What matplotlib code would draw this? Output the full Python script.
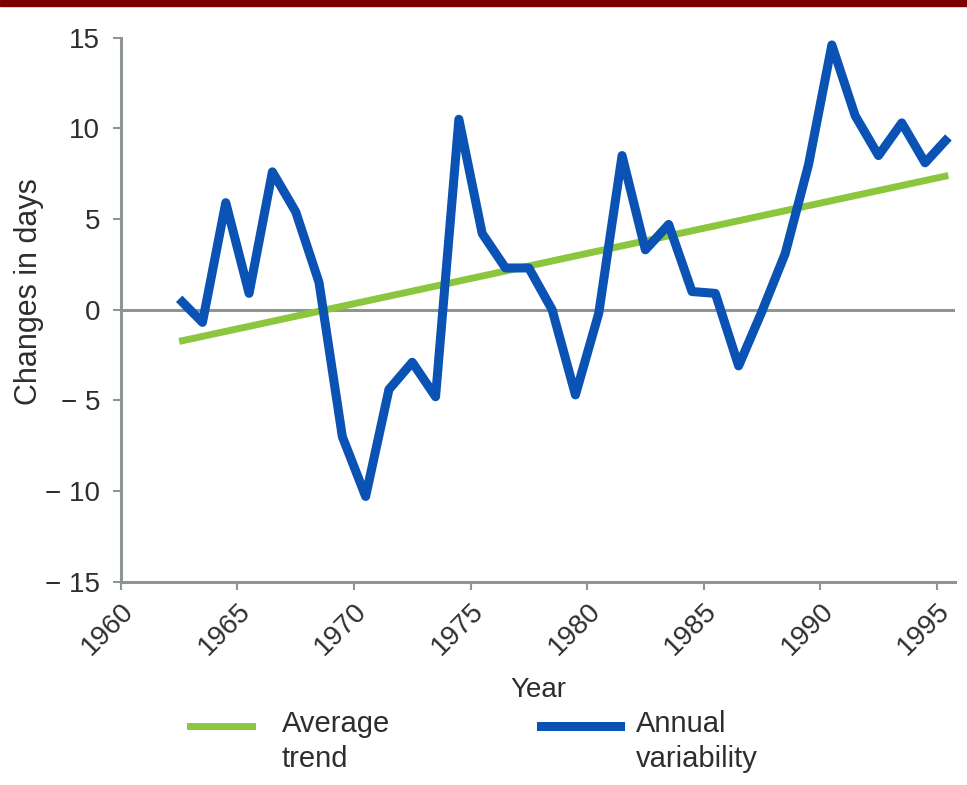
import matplotlib
matplotlib.use("Agg")
import matplotlib.pyplot as plt
import numpy as np

plt.rcParams['font.family'] = ['Liberation Sans', 'DejaVu Sans']

# annual variability, one value per year (plotted at mid-year)
years = list(range(1962, 1996))
annual = [0.6, -0.7, 5.9, 0.9, 7.6, 5.4, 1.5, -7.0, -10.3, -4.4, -2.9, -4.8,
          10.5, 4.2, 2.3, 2.3, 0.0, -4.7, -0.2, 8.5, 3.3, 4.7, 1.0, 0.9,
          -3.1, -0.1, 3.1, 8.0, 14.6, 10.7, 8.5, 10.3, 8.1, 9.5]

# average trend, start and end values
trend_years = [1962, 1995]
trend = [-1.75, 7.4]

x_ticks = [1960, 1965, 1970, 1975, 1980, 1985, 1990, 1995]
y_ticks = [-15, -10, -5, 0, 5, 10, 15]
y_labels = ["\u2212 15", "\u2212 10", "\u2212 5", "0", "5", "10", "15"]

blue = '#0a52b3'
green = '#8cc63f'
grey = '#8e9690'
text_c = '#2e2e2e'
fs = 20

fig = plt.figure(figsize=(9.67, 7.85), dpi=100)
ax = fig.add_axes([0.125, 0.259, 0.863, 0.693])

mid = np.array(years) + 0.5
ax.axhline(0, color=grey, lw=2.2, zorder=1)
ax.plot(np.array(trend_years) + 0.5, trend, color=green, lw=5, solid_capstyle='butt', zorder=2)
ax.plot(mid, annual, color=blue, lw=6.5, solid_joinstyle='round', solid_capstyle='butt', zorder=3)

ax.set_xlim(1960, 1995.8)
ax.set_ylim(-15, 15)
ax.set_xticks(x_ticks)
ax.set_xticklabels([str(v) for v in x_ticks], rotation=45, ha='right', rotation_mode='anchor')
ax.set_yticks(y_ticks)
ax.set_yticklabels(y_labels)

for s in ['top', 'right']:
    ax.spines[s].set_visible(False)
for s in ['left', 'bottom']:
    ax.spines[s].set_color(grey)
    ax.spines[s].set_linewidth(2.2)
ax.tick_params(axis='both', colors=grey, labelcolor=text_c, labelsize=fs, length=6, width=1.5)
ax.tick_params(axis='x', pad=6)
ax.tick_params(axis='y', pad=9)

ax.set_xlabel("Year", fontsize=fs, color=text_c, labelpad=12)
ax.set_ylabel("Changes in days", fontsize=22, color=text_c)
ax.yaxis.set_label_coords(-0.092, 0.533)

# legend below the axis
fig.add_artist(plt.Line2D([190 / 967, 252 / 967], [1 - 726 / 785] * 2, color=green, lw=5,
                          transform=fig.transFigure))
fig.text(282 / 967, 1 - 710 / 785, "Average\ntrend", fontsize=21, color=text_c, va='top',
         linespacing=1.3)
fig.add_artist(plt.Line2D([541 / 967, 620 / 967], [1 - 726 / 785] * 2, color=blue, lw=6.5,
                          transform=fig.transFigure))
fig.text(636 / 967, 1 - 710 / 785, "Annual\nvariability", fontsize=21, color=text_c, va='top',
         linespacing=1.3)

# dark red strip along the top edge
fig.add_artist(plt.Rectangle((0, 1 - 6 / 785), 1, 6 / 785, color='#7d0000',
                             transform=fig.transFigure))

fig.savefig('out.png', dpi=100, facecolor='white')
